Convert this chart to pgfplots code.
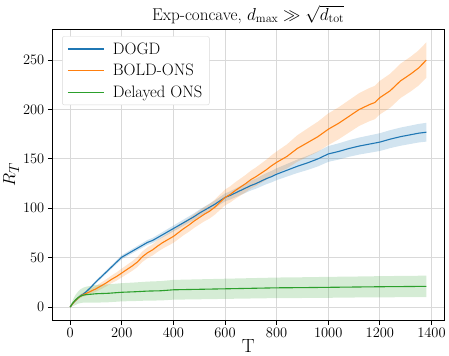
\documentclass[border=0pt]{standalone}
\usepackage{pgfplots}
\pgfplotsset{compat=1.18}
\usepackage{pgfplotstable}
\usepgfplotslibrary{fillbetween}
\definecolor{tabblue}{HTML}{1F77B4}
\definecolor{taborange}{HTML}{FF7F0E}
\definecolor{tabgreen}{HTML}{2CA02C}

\pgfplotstableread{
T m e
0 0 0
10 3.5 0.5
20 6.5 0.7
30 9 0.8
40 11.5 1
50 13 1
60 15 1.1
80 20 1.3
100 25.5 1.5
120 30.5 1.6
140 35.5 1.7
160 40.5 1.8
180 45.5 1.9
200 50.5 2
220 53.5 2.1
240 56.5 2.2
260 59.5 2.3
280 62.5 2.4
300 65.5 2.5
320 67.5 2.6
340 70.5 2.7
360 73.5 2.8
380 76.5 2.9
400 79.5 3
420 82.5 3.1
440 85.5 3.2
460 88.5 3.3
480 91.5 3.4
500 95 3.5
520 98 3.6
540 101 3.7
560 104 3.8
580 107.5 3.9
600 111 4
620 113 4.2
640 115.5 4.4
660 118 4.6
680 120.5 4.8
700 123 5
720 125 5.2
740 127.5 5.4
760 130 5.6
780 132 5.8
800 134.5 6
840 138.5 6.4
880 142.5 6.8
920 146 7.2
960 150 7.6
1000 155 8
1040 157.5 8.2
1080 160.5 8.4
1120 163 8.6
1160 165 8.8
1200 167 9
1240 170 9.1
1280 172.5 9.2
1320 174.5 9.3
1350 176 9.4
1380 177 9.5
}\tabdogd

\pgfplotstableread{
T m e
0 0 0
10 3.5 0.8
20 6.5 1.2
30 9 1.5
40 11 1.8
50 12.5 2
60 13.5 2.2
80 16 2.6
100 18.5 3
120 21.5 3.3
140 24.5 3.6
160 28 3.9
180 31 4.2
200 34.5 4.5
220 38 4.7
240 41.5 4.9
260 45.5 5.1
280 51 5.3
300 55 5.5
320 58 5.7
340 62 5.9
360 65.5 6.1
380 68.5 6.3
400 71.5 6.5
420 75.5 6.6
440 79.5 6.7
460 83 6.8
480 87 6.9
500 90.5 7
520 94 7.2
540 97 7.4
560 101 7.6
580 106 7.8
600 111 8
620 114 8.2
640 118 8.4
660 121.5 8.6
680 125 8.8
700 129 9
720 132 9.4
740 135.5 9.8
760 139 10.2
780 143 10.6
800 146.5 11
840 152.5 12.2
880 160.5 13.4
920 166.5 14.4
960 172.5 15.2
1000 180 16
1040 186 16.2
1080 193 16.4
1120 200 16.6
1160 205 16.8
1180 207 16.9
1200 212 17
1240 219 17.2
1280 229 17.4
1320 236 17.6
1350 242 17.8
1380 250 18
}\tabboldons

\pgfplotstableread{
T m e
0 0 0
10 4 3
20 7 5
30 9.5 6
40 11 7
50 12 7.5
60 12.5 8
80 13 8.5
100 13.5 9
150 14 9.1
200 15 9.2
250 15.5 9.4
300 16.2 9.6
350 16.5 9.8
400 17.5 10
500 18 10.1
600 18.5 10.2
700 19 10.3
800 19.5 10.4
900 19.7 10.5
1000 20 10.6
1100 20.3 10.6
1200 20.6 10.7
1300 20.8 10.8
1380 21 10.8
}\tabdons

\begin{document}
\begin{tikzpicture}
\begin{axis}[
  scale only axis,
  width=390pt, height=290pt,
  xmin=-69, xmax=1449,
  ymin=-13.4, ymax=281.5,
  xtick={0,200,...,1400},
  ytick={0,50,...,250},
  xticklabel style={/pgf/number format/1000 sep={}},
  tick align=outside,
  tick pos=left,
  major tick length=4.5pt,
  grid=major,
  major grid style={gray!30, line width=0.9pt},
  axis line style={line width=0.8pt},
  tick style={line width=0.8pt, black},
  tick label style={font=\fontsize{14.5}{17}\selectfont},
  xlabel={T},
  ylabel={$R_T$},
  label style={font=\fontsize{19}{22}\selectfont},
  xlabel style={yshift=5pt},
  ylabel style={yshift=-3pt},
  title={Exp-concave, $d_{\max} \gg \sqrt{d_{\mathrm{tot}}}$},
  title style={font=\fontsize{17}{20}\selectfont, yshift=-4pt},
  legend pos=north west,
  legend cell align=left,
  legend style={font=\fontsize{16.5}{19}\selectfont, draw=gray!30, rounded corners=2pt, fill=white, inner xsep=5pt, inner ysep=4pt, row sep=4.5pt, at={(0.025,0.975)}},
  legend image code/.code={\draw[#1] (0pt,0pt) -- (36pt,0pt); \path (42pt,0pt);},
]
\addlegendimage{draw=tabblue, line width=1.3pt}
\addlegendentry{DOGD}
\addlegendimage{draw=taborange, line width=1.3pt}
\addlegendentry{BOLD-ONS}
\addlegendimage{draw=tabgreen, line width=1.3pt}
\addlegendentry{Delayed ONS}

\addplot[name path=bu, draw=none, forget plot] table[x=T, y expr=\thisrow{m}+\thisrow{e}] {\tabdogd};
\addplot[name path=bl, draw=none, forget plot] table[x=T, y expr=\thisrow{m}-\thisrow{e}] {\tabdogd};
\addplot[fill=tabblue, fill opacity=0.2, draw=none, forget plot] fill between[of=bu and bl];
\addplot[name path=ou, draw=none, forget plot] table[x=T, y expr=\thisrow{m}+\thisrow{e}] {\tabboldons};
\addplot[name path=ol, draw=none, forget plot] table[x=T, y expr=\thisrow{m}-\thisrow{e}] {\tabboldons};
\addplot[fill=taborange, fill opacity=0.2, draw=none, forget plot] fill between[of=ou and ol];
\addplot[name path=gu, draw=none, forget plot] table[x=T, y expr=\thisrow{m}+\thisrow{e}] {\tabdons};
\addplot[name path=gl, draw=none, forget plot] table[x=T, y expr=\thisrow{m}-\thisrow{e}] {\tabdons};
\addplot[fill=tabgreen, fill opacity=0.2, draw=none, forget plot] fill between[of=gu and gl];

\addplot[draw=tabblue, line width=1.1pt, forget plot] table[x=T, y=m] {\tabdogd};
\addplot[draw=taborange, line width=1.1pt, forget plot] table[x=T, y=m] {\tabboldons};
\addplot[draw=tabgreen, line width=1.1pt, forget plot] table[x=T, y=m] {\tabdons};
\end{axis}
\path ([yshift=2pt]current bounding box.north);
\end{tikzpicture}
\end{document}
